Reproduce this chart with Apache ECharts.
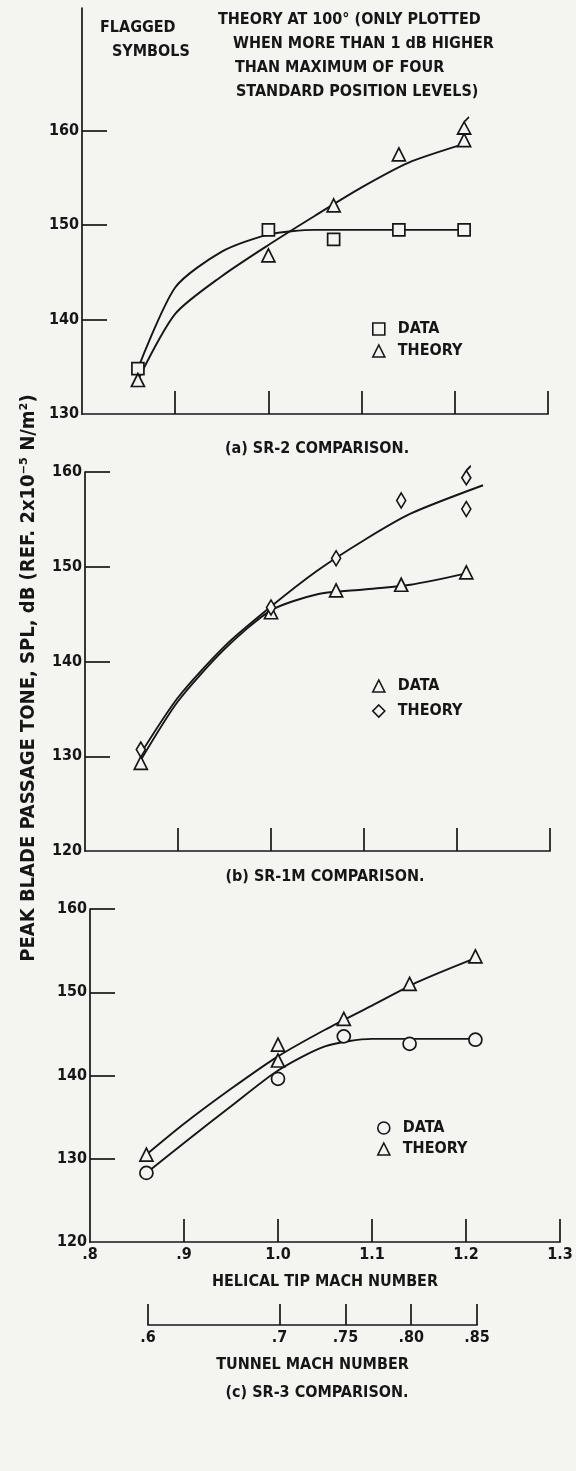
<!DOCTYPE html>
<html>
<head>
<meta charset="utf-8">
<script src="https://cdn.jsdelivr.net/npm/echarts@6/dist/echarts.min.js"></script>
<style>
html,body{margin:0;padding:0;background:#f4f4f1;}
#chart{width:576px;height:1471px;}
</style>
</head>
<body>
<div id="chart"></div>
<script>
// ---------- axis ticks / labels ----------
const helicalTicks = [0.9, 1.0, 1.1, 1.2, 1.3];
const helicalLabelValues = [0.8, 0.9, 1.0, 1.1, 1.2, 1.3];
const helicalLabels = ['.8', '.9', '1.0', '1.1', '1.2', '1.3'];
const tunnelTicks = [0.6, 0.7, 0.75, 0.80, 0.85];
const tunnelLabels = ['.6', '.7', '.75', '.80', '.85'];
const splLabelsA = [130, 140, 150, 160];
const splLabelsBC = [120, 130, 140, 150, 160];

// ---------- (a) SR-2 ----------
const sr2Mach = [0.86, 1.0, 1.07, 1.14, 1.21];
const sr2Data = [134.8, 149.5, 148.5, 149.5, 149.5];
const sr2Theory = [133.6, 146.8, 152.1, 157.5, 159.0];
const sr2FlagMach = [1.21];
const sr2Flag = [160.3];
const sr2DataFitMach = [0.86, 0.90, 0.95, 1.00, 1.05, 1.10, 1.15, 1.21];
const sr2DataFit = [134.8, 143.4, 147.2, 149.0, 149.5, 149.5, 149.5, 149.5];
const sr2TheoryFitMach = [0.86, 0.90, 0.95, 1.00, 1.05, 1.10, 1.15, 1.21];
const sr2TheoryFit = [133.6, 140.6, 144.6, 147.9, 151.0, 154.0, 156.6, 158.6];

// ---------- (b) SR-1M ----------
const sr1mMach = [0.86, 1.0, 1.07, 1.14, 1.21];
const sr1mData = [129.3, 145.2, 147.5, 148.1, 149.4];
const sr1mTheoryMach = [0.86, 1.0, 1.07, 1.14, 1.21];
const sr1mTheory = [130.7, 145.7, 150.9, 157.0, 156.1];
const sr1mFlagMach = [1.21];
const sr1mFlag = [159.4];
const sr1mDataFitMach = [0.86, 0.90, 0.95, 1.00, 1.05, 1.10, 1.15, 1.21];
const sr1mDataFit = [129.6, 135.8, 141.3, 145.4, 147.1, 147.6, 148.1, 149.3];
const sr1mTheoryFitMach = [0.86, 0.90, 0.95, 1.00, 1.05, 1.10, 1.15, 1.228];
const sr1mTheoryFit = [130.3, 136.2, 141.6, 145.8, 149.6, 152.8, 155.6, 158.6];

// ---------- (c) SR-3 ----------
const sr3Mach = [0.86, 1.0, 1.07, 1.14, 1.21];
const sr3Data = [128.3, 139.6, 144.7, 143.8, 144.3];
const sr3TheoryMach = [0.86, 1.0, 1.0, 1.07, 1.14, 1.21];
const sr3Theory = [130.5, 141.8, 143.7, 146.8, 151.0, 154.3];
const sr3DataFitMach = [0.86, 0.90, 0.95, 1.00, 1.05, 1.10, 1.15, 1.21];
const sr3DataFit = [128.3, 131.9, 136.3, 140.6, 143.5, 144.4, 144.4, 144.4];
const sr3TheoryFitMach = [0.86, 0.90, 0.95, 1.00, 1.05, 1.10, 1.15, 1.21];
const sr3TheoryFit = [130.5, 134.2, 138.4, 142.3, 145.5, 148.4, 151.3, 154.1];

// ---------- style ----------
const BG = '#f4f4f1';
const INK = '#161616';
const FONT = "'Liberation Sans Narrow','DejaVu Sans Condensed','Liberation Sans',sans-serif";
const FS = 16;
const TXT = {color: INK, fontFamily: FONT, fontSize: FS, fontWeight: 'bold'};
const GFONT = 'bold ' + FS + 'px ' + FONT;

const FLAG_TRI = 'path://M2,20 L10,6 L18,20 Z M10,6 L16,0';
const FLAG_DIA = 'path://M5,5 L10,12.5 L5,20 L0,12.5 Z M5,5 L10,0';

const zip = (xs, ys) => xs.map((x, i) => [x, ys[i]]);

function xAxisFor(gi, showLabels) {
  return {
    gridIndex: gi, type: 'value', min: 0.8, max: 1.3,
    axisLine: {show: true, onZero: false, lineStyle: {color: INK, width: 1.7}},
    axisTick: {show: true, inside: true, length: 23, customValues: helicalTicks, lineStyle: {color: INK, width: 1.7}},
    axisLabel: showLabels ? Object.assign({show: true, margin: 5, customValues: helicalLabelValues,
      formatter: v => helicalLabels[helicalLabelValues.findIndex(t => Math.abs(t - v) < 1e-6)]}, TXT) : {show: false},
    splitLine: {show: false},
    name: showLabels ? 'HELICAL TIP MACH NUMBER' : '',
    nameLocation: 'middle', nameGap: 32, nameTextStyle: TXT
  };
}
function yAxisFor(gi, min, max, ticks, labels) {
  return {
    gridIndex: gi, type: 'value', min: min, max: max,
    axisLine: {show: true, onZero: false, lineStyle: {color: INK, width: 1.7}},
    axisTick: {show: true, inside: true, length: 25, customValues: ticks, lineStyle: {color: INK, width: 1.7}},
    axisLabel: Object.assign({show: true, margin: 3, customValues: labels}, TXT),
    splitLine: {show: false}
  };
}
function marks(name, gi, pts, symbol, size, offset) {
  return {
    name: name, type: 'scatter', xAxisIndex: gi, yAxisIndex: gi, data: pts,
    symbol: symbol, symbolSize: size, symbolOffset: offset || [0, 0], z: 5,
    itemStyle: {color: BG, borderColor: INK, borderWidth: 1.7, opacity: 1},
    emphasis: {disabled: true}
  };
}
function fit(gi, pts) {
  return {
    name: 'fit', type: 'line', xAxisIndex: gi, yAxisIndex: gi, data: pts,
    smooth: 0.25, showSymbol: false, symbol: 'none', z: 3,
    lineStyle: {color: INK, width: 1.9}, emphasis: {disabled: true}
  };
}
const legendStyle = {color: BG, borderColor: INK, borderWidth: 1.6};
function legendFor(left, top, gap, items) {
  return {
    left: left, top: top, orient: 'vertical', itemGap: gap, itemWidth: 12, itemHeight: 12,
    selectedMode: false, textStyle: Object.assign({}, TXT, {padding: [0, 0, 0, 8]}),
    data: items.map(it => ({name: it[0], icon: it[1], itemStyle: legendStyle}))
  };
}

const option = {
  backgroundColor: BG,
  animation: false,
  grid: [
    {left: 82, right: 28, top: 8, height: 406},
    {left: 85, right: 26, top: 472, height: 379},
    {left: 90, right: 16, top: 909, height: 333},
    {left: 148, width: 329, top: 1300, height: 25}
  ],
  xAxis: [
    xAxisFor(0, false),
    xAxisFor(1, false),
    xAxisFor(2, true),
    {
      gridIndex: 3, type: 'value', min: 0.6, max: 0.85,
      axisLine: {show: true, onZero: false, lineStyle: {color: INK, width: 1.7}},
      axisTick: {show: true, inside: true, length: 21, customValues: tunnelTicks, lineStyle: {color: INK, width: 1.7}},
      axisLabel: Object.assign({show: true, margin: 5, customValues: tunnelTicks,
        formatter: v => tunnelLabels[tunnelTicks.findIndex(t => Math.abs(t - v) < 1e-6)]}, TXT),
      splitLine: {show: false},
      name: 'TUNNEL MACH NUMBER', nameLocation: 'middle', nameGap: 32, nameTextStyle: TXT
    }
  ],
  yAxis: [
    yAxisFor(0, 130, 173, [140, 150, 160], splLabelsA),
    yAxisFor(1, 120, 160, [130, 140, 150, 160], splLabelsBC),
    yAxisFor(2, 120, 160, [130, 140, 150, 160], splLabelsBC),
    {gridIndex: 3, type: 'value', min: 0, max: 1, show: false}
  ],
  legend: [
    legendFor(367, 316, 6, [['DATA', 'rect'], ['THEORY', 'triangle']]),
    legendFor(367, 673, 9, [['DATA', 'triangle'], ['THEORY', 'diamond']]),
    legendFor(372, 1115, 5, [['DATA', 'circle'], ['THEORY', 'triangle']])
  ],
  title: [
    {text: '(a) SR-2 COMPARISON.', left: 312, top: 444, textAlign: 'center', textVerticalAlign: 'middle', textStyle: TXT},
    {text: '(b) SR-1M COMPARISON.', left: 320, top: 872, textAlign: 'center', textVerticalAlign: 'middle', textStyle: TXT},
    {text: '(c) SR-3 COMPARISON.', left: 312, top: 1388, textAlign: 'center', textVerticalAlign: 'middle', textStyle: TXT}
  ],
  graphic: [
    {type: 'text', left: 100, top: 20, style: {text: 'FLAGGED', fill: INK, font: GFONT}},
    {type: 'text', left: 112, top: 44, style: {text: 'SYMBOLS', fill: INK, font: GFONT}},
    {type: 'text', left: 218, top: 12, style: {text: 'THEORY AT 100° (ONLY PLOTTED', fill: INK, font: GFONT}},
    {type: 'text', left: 233, top: 36, style: {text: 'WHEN MORE THAN 1 dB HIGHER', fill: INK, font: GFONT}},
    {type: 'text', left: 235, top: 60, style: {text: 'THAN MAXIMUM OF FOUR', fill: INK, font: GFONT}},
    {type: 'text', left: 236, top: 84, style: {text: 'STANDARD POSITION LEVELS)', fill: INK, font: GFONT}},
    {type: 'text', x: 29, y: 678, rotation: Math.PI / 2,
      style: {text: 'PEAK BLADE PASSAGE TONE, SPL, dB (REF. 2x10⁻⁵ N/m²)', fill: INK,
        font: 'bold 20px ' + FONT, align: 'center', verticalAlign: 'middle'}}
  ],
  series: [
    // (a)
    fit(0, zip(sr2DataFitMach, sr2DataFit)),
    fit(0, zip(sr2TheoryFitMach, sr2TheoryFit)),
    marks('DATA', 0, zip(sr2Mach, sr2Data), 'rect', 12),
    marks('THEORY', 0, zip(sr2Mach, sr2Theory), 'triangle', 13),
    marks('FLAGGED', 0, zip(sr2FlagMach, sr2Flag), FLAG_TRI, [13, 17], [0, -2.5]),
    // (b)
    fit(1, zip(sr1mDataFitMach, sr1mDataFit)),
    fit(1, zip(sr1mTheoryFitMach, sr1mTheoryFit)),
    marks('DATA', 1, zip(sr1mMach, sr1mData), 'triangle', 13),
    marks('THEORY', 1, zip(sr1mTheoryMach, sr1mTheory), 'diamond', [9, 15]),
    marks('FLAGGED', 1, zip(sr1mFlagMach, sr1mFlag), FLAG_DIA, [9, 19], [0, -2.4]),
    // (c)
    fit(2, zip(sr3DataFitMach, sr3DataFit)),
    fit(2, zip(sr3TheoryFitMach, sr3TheoryFit)),
    marks('DATA', 2, zip(sr3Mach, sr3Data), 'circle', 13),
    marks('THEORY', 2, zip(sr3TheoryMach, sr3Theory), 'triangle', 13)
  ]
};

const chart = echarts.init(document.getElementById('chart'), null, {renderer: 'canvas'});
chart.setOption(option);
</script>
</body>
</html>
